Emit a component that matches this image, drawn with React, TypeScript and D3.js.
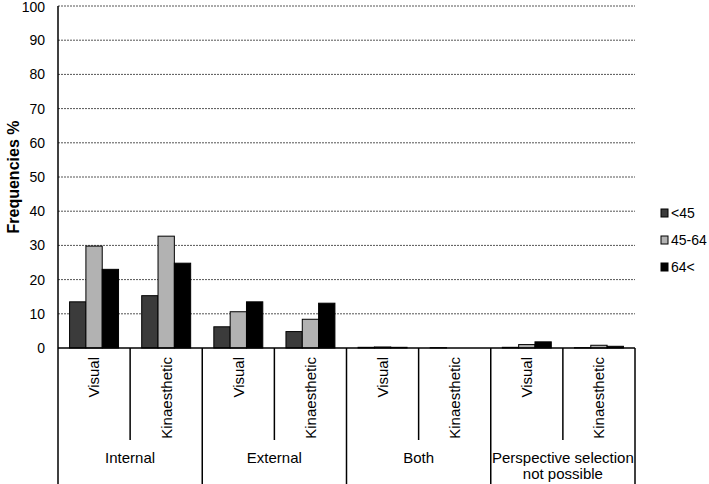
import React from 'react';
import * as d3 from 'd3';

const groups = ['Internal', 'External', 'Both', 'Perspective selection\nnot possible'];
const subCategories = ['Visual', 'Kinaesthetic'];
const seriesNames = ['<45', '45-64', '64<'];
const seriesColors = ['#3b3b3b', '#b2b2b2', '#000000'];

// values per series, in order: Internal V, Internal K, External V, External K, Both V, Both K, PSNP V, PSNP K
const under45 = [13.5, 15.3, 6.2, 4.8, 0.2, 0.1, 0.2, 0.1];
const from45to64 = [29.8, 32.7, 10.6, 8.4, 0.3, 0.0, 1.0, 0.8];
const over64 = [23.0, 24.8, 13.5, 13.1, 0.2, 0.0, 1.8, 0.5];
const yTicks = [0, 10, 20, 30, 40, 50, 60, 70, 80, 90, 100];

const W = 709;
const H = 484;
const left = 58;
const right = 635;
const top = 6;
const base = 348;
const font = '"Liberation Sans", Arial, sans-serif';

export default function App() {
  const series = [under45, from45to64, over64];
  const cats = d3.range(groups.length * subCategories.length);

  const x = d3.scaleBand<number>().domain(cats).range([left, right]).paddingInner(0);
  const xg = d3.scaleBand<number>().domain(d3.range(groups.length)).range([left, right]);
  const xs = d3
    .scaleBand<number>()
    .domain(d3.range(seriesNames.length))
    .range([0, x.bandwidth()])
    .paddingInner(0)
    .paddingOuter(0.71);
  const y = d3.scaleLinear().domain([0, 100]).range([base, top]);

  return (
    <svg width={W} height={H} style={{ position: 'absolute', left: 0, top: 0 }} fontFamily={font}>
      <rect width={W} height={H} fill="#fff" />
      {/* gridlines */}
      {yTicks.filter((t) => t > 0).map((t) => (
        <line
          key={t}
          x1={left}
          x2={right}
          y1={y(t)}
          y2={y(t)}
          stroke="#555"
          strokeWidth={1}
          strokeDasharray="2,1"
        />
      ))}
      {/* y tick labels */}
      {yTicks.map((t) => (
        <text key={t} x={45} y={Math.max(y(t), 7)} dy="0.36em" textAnchor="end" fontSize={14} fill="#000">
          {t}
        </text>
      ))}
      <text
        transform={`translate(13,${(top + base) / 2}) rotate(-90)`}
        textAnchor="middle"
        dy="0.36em"
        fontSize={16}
        fontWeight="bold"
      >
        Frequencies %
      </text>
      {/* bars */}
      {series.map((vals, si) =>
        vals.map((v, ci) => (
          <rect
            key={`${si}-${ci}`}
            x={(x(ci) as number) + (xs(si) as number)}
            y={y(v)}
            width={xs.bandwidth()}
            height={base - y(v)}
            fill={seriesColors[si]}
            stroke="#000"
            strokeWidth={1}
          />
        ))
      )}
      {/* axes */}
      <line x1={left} x2={left} y1={top} y2={H} stroke="#000" strokeWidth={1.5} />
      <line x1={left} x2={right} y1={base} y2={base} stroke="#000" strokeWidth={1.5} />
      {d3.range(1, groups.length + 1).map((g) => {
        const gx = g === groups.length ? right : (xg(g) as number);
        return <line key={`g${g}`} x1={gx} x2={gx} y1={base} y2={H} stroke="#000" strokeWidth={1.5} />;
      })}
      {cats
        .filter((c) => c % 2 === 1)
        .map((c) => (
          <line
            key={`s${c}`}
            x1={x(c) as number}
            x2={x(c) as number}
            y1={base}
            y2={440}
            stroke="#000"
            strokeWidth={1.5}
          />
        ))}
      {/* sub category labels */}
      {cats.map((c) => (
        <text
          key={`l${c}`}
          transform={`translate(${(x(c) as number) + x.bandwidth() / 2},357) rotate(-90)`}
          textAnchor="end"
          dy="0.36em"
          fontSize={15}
        >
          {subCategories[c % 2]}
        </text>
      ))}
      {/* group labels */}
      {groups.map((g, gi) => (
        <text
          key={g}
          x={(xg(gi) as number) + xg.bandwidth() / 2}
          y={463}
          textAnchor="middle"
          fontSize={15}
        >
          {g.split('\n').map((line, li) => (
            <tspan key={li} x={(xg(gi) as number) + xg.bandwidth() / 2} dy={li === 0 ? 0 : 16}>
              {line}
            </tspan>
          ))}
        </text>
      ))}
      {/* legend */}
      {seriesNames.map((name, si) => (
        <g key={name} transform={`translate(661,${213 + si * 27})`}>
          <rect x={0} y={-4} width={7} height={8} fill={seriesColors[si]} stroke="#000" strokeWidth={1} />
          <text x={10} dy="0.36em" fontSize={14}>
            {name}
          </text>
        </g>
      ))}
    </svg>
  );
}
